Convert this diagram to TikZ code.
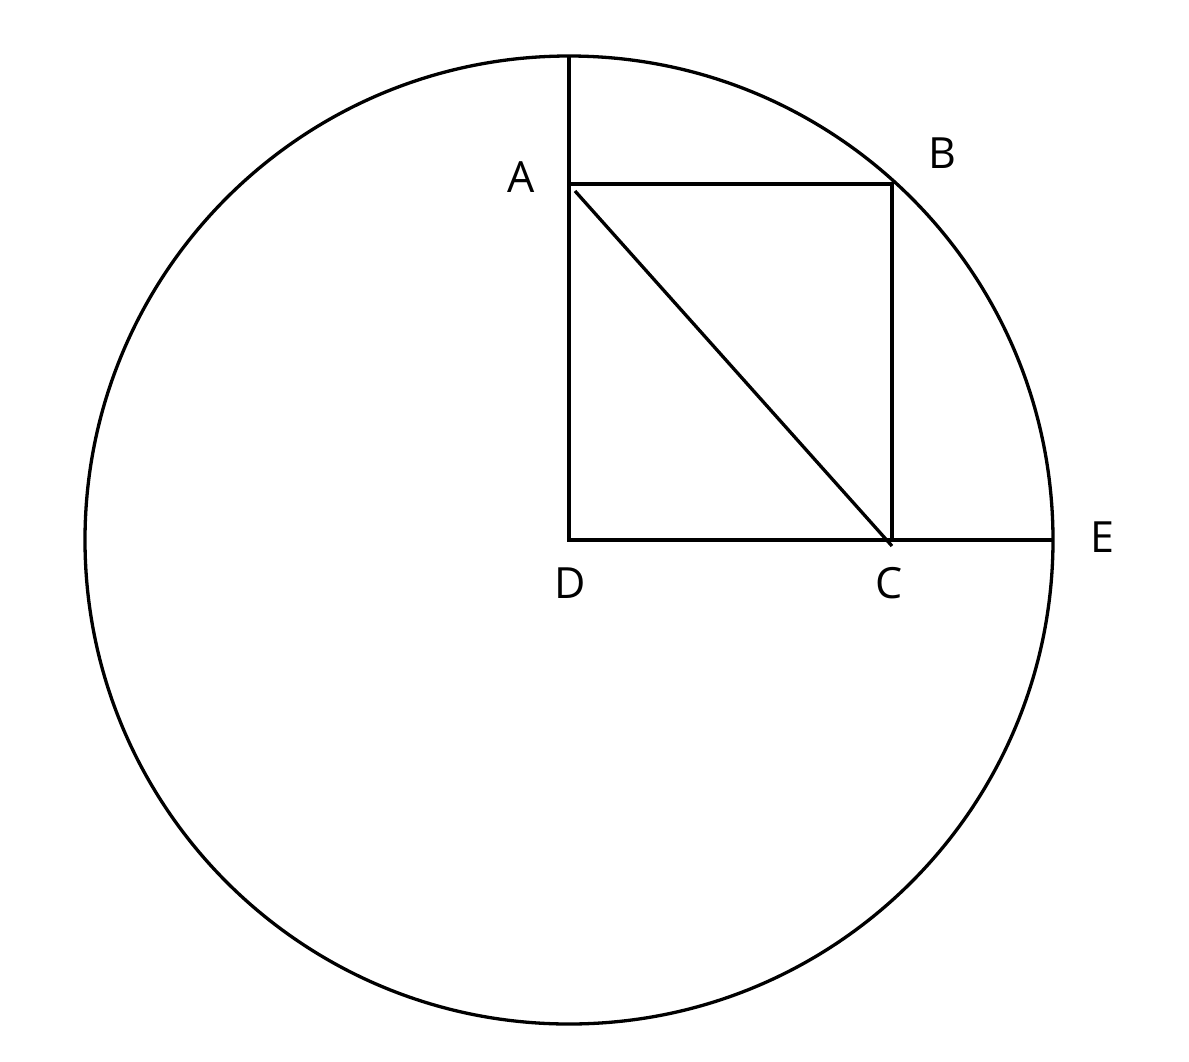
\documentclass[tikz,border=0pt]{standalone}
\usepackage{fontspec}
\setmainfont{Open Sans}
\begin{document}
\begin{tikzpicture}[x=1pt,y=-1pt,
  geo/.style={line width=3.3pt,black},
  lbl/.style={font=\fontsize{43}{43}\selectfont,inner sep=0pt,anchor=center}]
\useasboundingbox (0,0) rectangle (1189,1061);
\coordinate (D) at (569,540);
\coordinate (A) at (569,184);
\coordinate (B) at (892,184);
\coordinate (C) at (892,540);
\coordinate (E) at (1052,540);
\coordinate (T) at (569,56);
\coordinate (A2) at (575,191);
\coordinate (C2) at (892,546);
\draw[geo] (D) circle (484);
\draw[geo] (T) -- (D) -- (E);
\draw[geo] (A) -- (B) -- (C);
\draw[geo] (A2) -- (C2);
\node[lbl] (lA) at (521,177) {A};
\node[lbl] (lB) at (942,153) {B};
\node[lbl] (lC) at (889,583) {C};
\node[lbl] (lD) at (570,583) {D};
\node[lbl] (lE) at (1102,537) {E};
\end{tikzpicture}
\end{document}
